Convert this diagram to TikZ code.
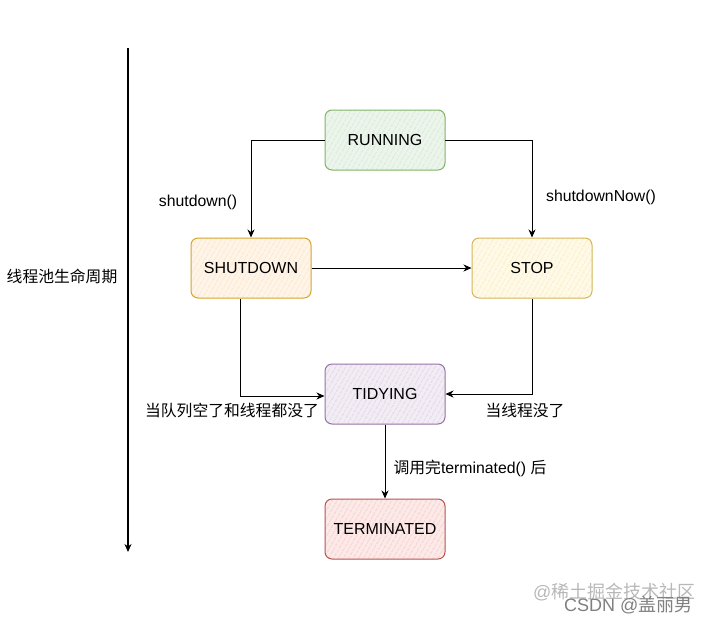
\documentclass[tikz,border=0pt]{standalone}
\usepackage{fontspec}
\setmainfont{Liberation Sans}
\newfontfamily\cjk{Noto Sans CJK SC}
\usetikzlibrary{arrows.meta,patterns.meta}
\definecolor{gfill}{HTML}{D5E8D4}\definecolor{gdraw}{HTML}{82B366}
\definecolor{yfill}{HTML}{FFF2CC}\definecolor{ydraw}{HTML}{D6B656}
\definecolor{ofill}{HTML}{FFE6CC}\definecolor{odraw}{HTML}{D7A52B}
\definecolor{pfill}{HTML}{E1D5E7}\definecolor{pdraw}{HTML}{9673A6}
\definecolor{rfill}{HTML}{F8CECC}\definecolor{rdraw}{HTML}{B85450}
\tikzset{
  state/.style={draw=#1draw, line width=1pt, rounded corners=7pt, minimum width=120pt, minimum height=60pt,
    font=\fontsize{16}{19}\selectfont, text=black,
    preaction={fill=#1fill!45},
    pattern={Lines[angle=60,distance=4pt,line width=0.7pt]}, pattern color=#1fill!85!#1draw},
  conn/.style={draw=black, line width=0.9pt, -{Stealth[length=8pt,width=7pt,inset=2.5pt]}},
  lbl/.style={font=\fontsize{15.8}{18}\selectfont, inner sep=0pt},
  wm/.style={font=\fontsize{18}{20}\selectfont, inner sep=0pt, anchor=west},
}
\begin{document}
\begin{tikzpicture}[x=1pt,y=-1pt]
\useasboundingbox (0,0) rectangle (711,621);
\fill[white] (0,0) rectangle (711,621);
% lifecycle axis
\coordinate (top) at (128,48);
\coordinate (bot) at (128,552);
\draw[conn,line width=1.2pt] (top) -- (bot);
\node[lbl] (life) at (62,276) {\cjk 线程池生命周期};
% states
\node[state=g] (run) at (385,140) {RUNNING};
\node[state=o] (shut) at (251,268) {SHUTDOWN};
\node[state=y] (stop) at (532,268) {STOP};
\node[state=p] (tidy) at (385,394) {TIDYING};
\node[state=r] (term) at (385,529) {TERMINATED};
% connectors
\draw[conn] (run.west) -| (shut.north);
\draw[conn] (run.east) -| (stop.north);
\draw[conn] (shut.east) -- (stop.west);
\draw[conn] ([xshift=-11pt]shut.south) |- ([yshift=-2pt]tidy.west);
\draw[conn] (stop.south) |- (tidy.east);
\draw[conn] (tidy.south) -- (term.north);
% labels
\node[lbl] (l1) at (198,202) {shutdown()};
\node[lbl] (l2) at (601,197) {shutdownNow()};
\node[lbl] (l3) at (232,410) {\cjk 当队列空了和线程都没了};
\node[lbl] (l4) at (525,410) {\cjk 当线程没了};
\node[lbl] (l5) at (470,468) {{\cjk 调用完}terminated() {\cjk 后}};
% watermark
\node[wm, text=black!28] (w1) at (533,592) {@\cjk 稀土掘金技术社区};
\node[wm, text=black!50] (w2) at (564,605) {CSDN @\cjk 盖丽男};
\end{tikzpicture}
\end{document}
